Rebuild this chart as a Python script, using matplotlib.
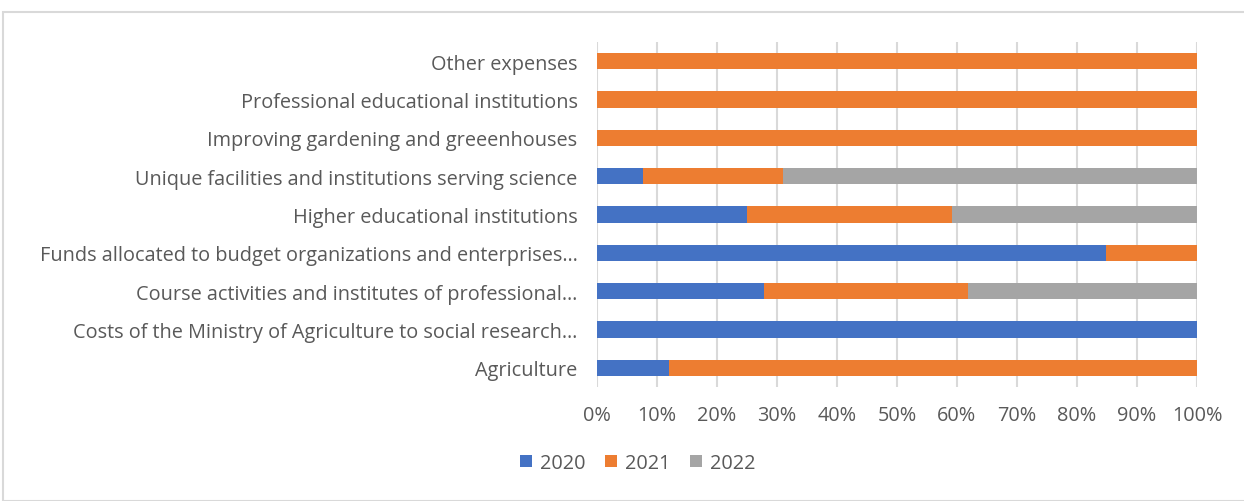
import matplotlib.pyplot as plt
from matplotlib.patches import Rectangle
from matplotlib.ticker import PercentFormatter

categories = [
    "Agriculture",
    "Costs of the Ministry of Agriculture to social research\u2026",
    "Course activities and institutes of professional\u2026",
    "Funds allocated to budget organizations and enterprises\u2026",
    "Higher educational institutions",
    "Unique facilities and institutions serving science",
    "Improving gardening and greeenhouses",
    "Professional educational institutions",
    "Other expenses",
]
y2020 = [12.0, 100.0, 27.8, 84.8, 25.0, 7.6, 0.0, 0.0, 0.0]
y2021 = [88.0, 0.0, 34.0, 15.2, 34.2, 23.4, 100.0, 100.0, 100.0]
y2022 = [0.0, 0.0, 38.2, 0.0, 40.8, 69.0, 0.0, 0.0, 0.0]
series = ["2020", "2021", "2022"]
colors = ["#4472c4", "#ed7d31", "#a5a5a5"]

plt.rcParams['font.family'] = ['Open Sans', 'DejaVu Sans']

fig = plt.figure(figsize=(12.44, 5.02), dpi=100)
ax = fig.add_axes([597 / 1244, 1 - 388 / 502, 600 / 1244, 345 / 502])

# chart frame like the office export
fig.patches.append(Rectangle((3 / 1244, 0), 1.0, 1 - 13 / 502, transform=fig.transFigure,
                             fill=False, edgecolor="#d9d9d9", linewidth=1.5))

pos = range(len(categories))
left = [0.0] * len(categories)
for name, vals, c in zip(series, [y2020, y2021, y2022], colors):
    ax.barh(pos, vals, left=left, height=0.42, color=c, label=name, zorder=3)
    left = [a + b for a, b in zip(left, vals)]

ax.set_xlim(0, 100)
ax.set_ylim(-0.5, len(categories) - 0.5)
ax.set_xticks(range(0, 101, 10))
ax.xaxis.set_major_formatter(PercentFormatter(decimals=0))
ax.set_yticks(list(pos))
ax.set_yticklabels(categories)
ax.grid(axis="x", color="#d9d9d9", linewidth=1.5, zorder=0)
for s in ax.spines.values():
    s.set_visible(False)
ax.tick_params(axis="both", length=0, labelsize=14.3, labelcolor="#595959")
ax.tick_params(axis="y", pad=14)
ax.tick_params(axis="x", pad=13)

fig.legend(loc="center", bbox_to_anchor=(638 / 1244, 1 - 464 / 502), ncol=3, frameon=False,
           fontsize=14.3, labelcolor="#595959", handlelength=0.6, handleheight=0.6,
           handletextpad=0.4, columnspacing=1.0)

fig.savefig("out.png", dpi=100)
